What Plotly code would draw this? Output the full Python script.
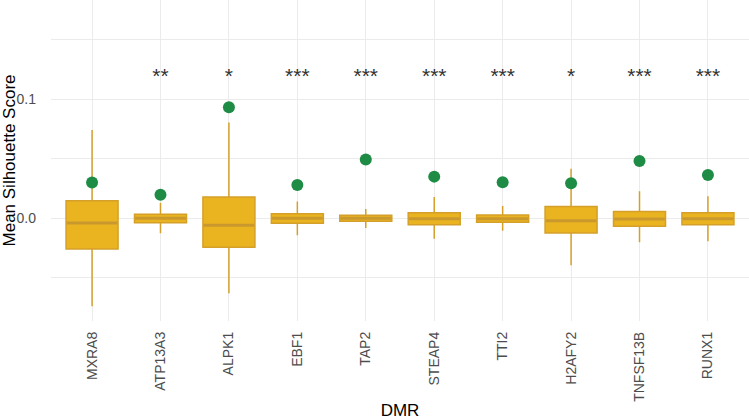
import plotly.graph_objects as go

dmr = ["MXRA8", "ATP13A3", "ALPK1", "EBF1", "TAP2", "STEAP4", "TTI2", "H2AFY2", "TNFSF13B", "RUNX1"]
lower_whisker = [-0.0740, -0.0126, -0.0630, -0.0143, -0.0082, -0.0171, -0.0104, -0.0395, -0.0202, -0.0193]
q1 = [-0.0258, -0.0037, -0.0244, -0.0042, -0.0025, -0.0054, -0.0034, -0.0124, -0.0067, -0.0054]
median = [-0.0040, 0.0000, -0.0059, 0.0000, 0.0000, -0.0003, -0.0003, -0.0020, -0.0006, -0.0003]
q3 = [0.0148, 0.0034, 0.0179, 0.0039, 0.0025, 0.0047, 0.0028, 0.0098, 0.0056, 0.0047]
upper_whisker = [0.0742, 0.0131, 0.0804, 0.0140, 0.0078, 0.0179, 0.0103, 0.0417, 0.0227, 0.0185]
observed = [0.0300, 0.0198, 0.0933, 0.0280, 0.0493, 0.0350, 0.0302, 0.0294, 0.0482, 0.0364]
stars = ["", "**", "*", "***", "***", "***", "***", "*", "***", "***"]
star_y = 0.118

FILL = "#EAB320"
EDGE = "#D5A02A"
MED = "#C9992E"
GREEN = "#1E8C45"
GRID = "#EBEBEB"
FONT = "Liberation Sans, Arial, sans-serif"

fig = go.Figure()
fig.add_trace(go.Box(
    x=dmr, q1=q1, median=median, q3=q3,
    lowerfence=lower_whisker, upperfence=upper_whisker,
    fillcolor=FILL, line=dict(color=EDGE, width=1.5),
    whiskerwidth=0, width=0.76, boxpoints=False, hoverinfo="skip",
    showlegend=False,
))
fig.add_trace(go.Scatter(
    x=dmr, y=median, mode="markers",
    marker=dict(symbol="line-ew", size=36, line=dict(color=MED, width=3)),
    showlegend=False, hoverinfo="skip",
))
fig.add_trace(go.Scatter(
    x=dmr, y=observed, mode="markers",
    marker=dict(color=GREEN, size=12, line=dict(width=0)),
    showlegend=False,
))
fig.add_trace(go.Scatter(
    x=dmr, y=[star_y] * len(dmr), mode="text", text=stars,
    textposition="middle center",
    textfont=dict(family=FONT, size=21, color="#333333"),
    showlegend=False, hoverinfo="skip",
))

fig.update_layout(
    width=749, height=420,
    margin=dict(l=51, r=0, t=0, b=99),
    paper_bgcolor="white", plot_bgcolor="white",
    font=dict(family=FONT, color="#4D4D4D"),
    xaxis=dict(
        type="category", range=[-0.6, 9.6], automargin=False,
        showgrid=True, gridcolor=GRID, gridwidth=1.2,
        zeroline=False, showline=False, ticks="",
        tickangle=-90, tickfont=dict(size=14, color="#4D4D4D"),
        ticklabelstandoff=7,
        title=dict(text="DMR", font=dict(size=17, color="black"), standoff=5),
    ),
    yaxis=dict(
        range=[-0.0863, 0.1834], automargin=False,
        tick0=0, dtick=0.1, tickformat=".1f",
        showgrid=True, gridcolor=GRID, gridwidth=1.2,
        minor=dict(dtick=0.05, showgrid=True, gridcolor=GRID, gridwidth=0.6),
        zeroline=False, showline=False, ticks="",
        tickfont=dict(size=14, color="#4D4D4D"),
        ticklabelstandoff=14,
        title=dict(text="Mean Silhouette Score", font=dict(size=17, color="black"), standoff=6),
    ),
)

fig.write_html("out.html", config={"displayModeBar": False},
               post_script="document.body.style.margin='0';")
